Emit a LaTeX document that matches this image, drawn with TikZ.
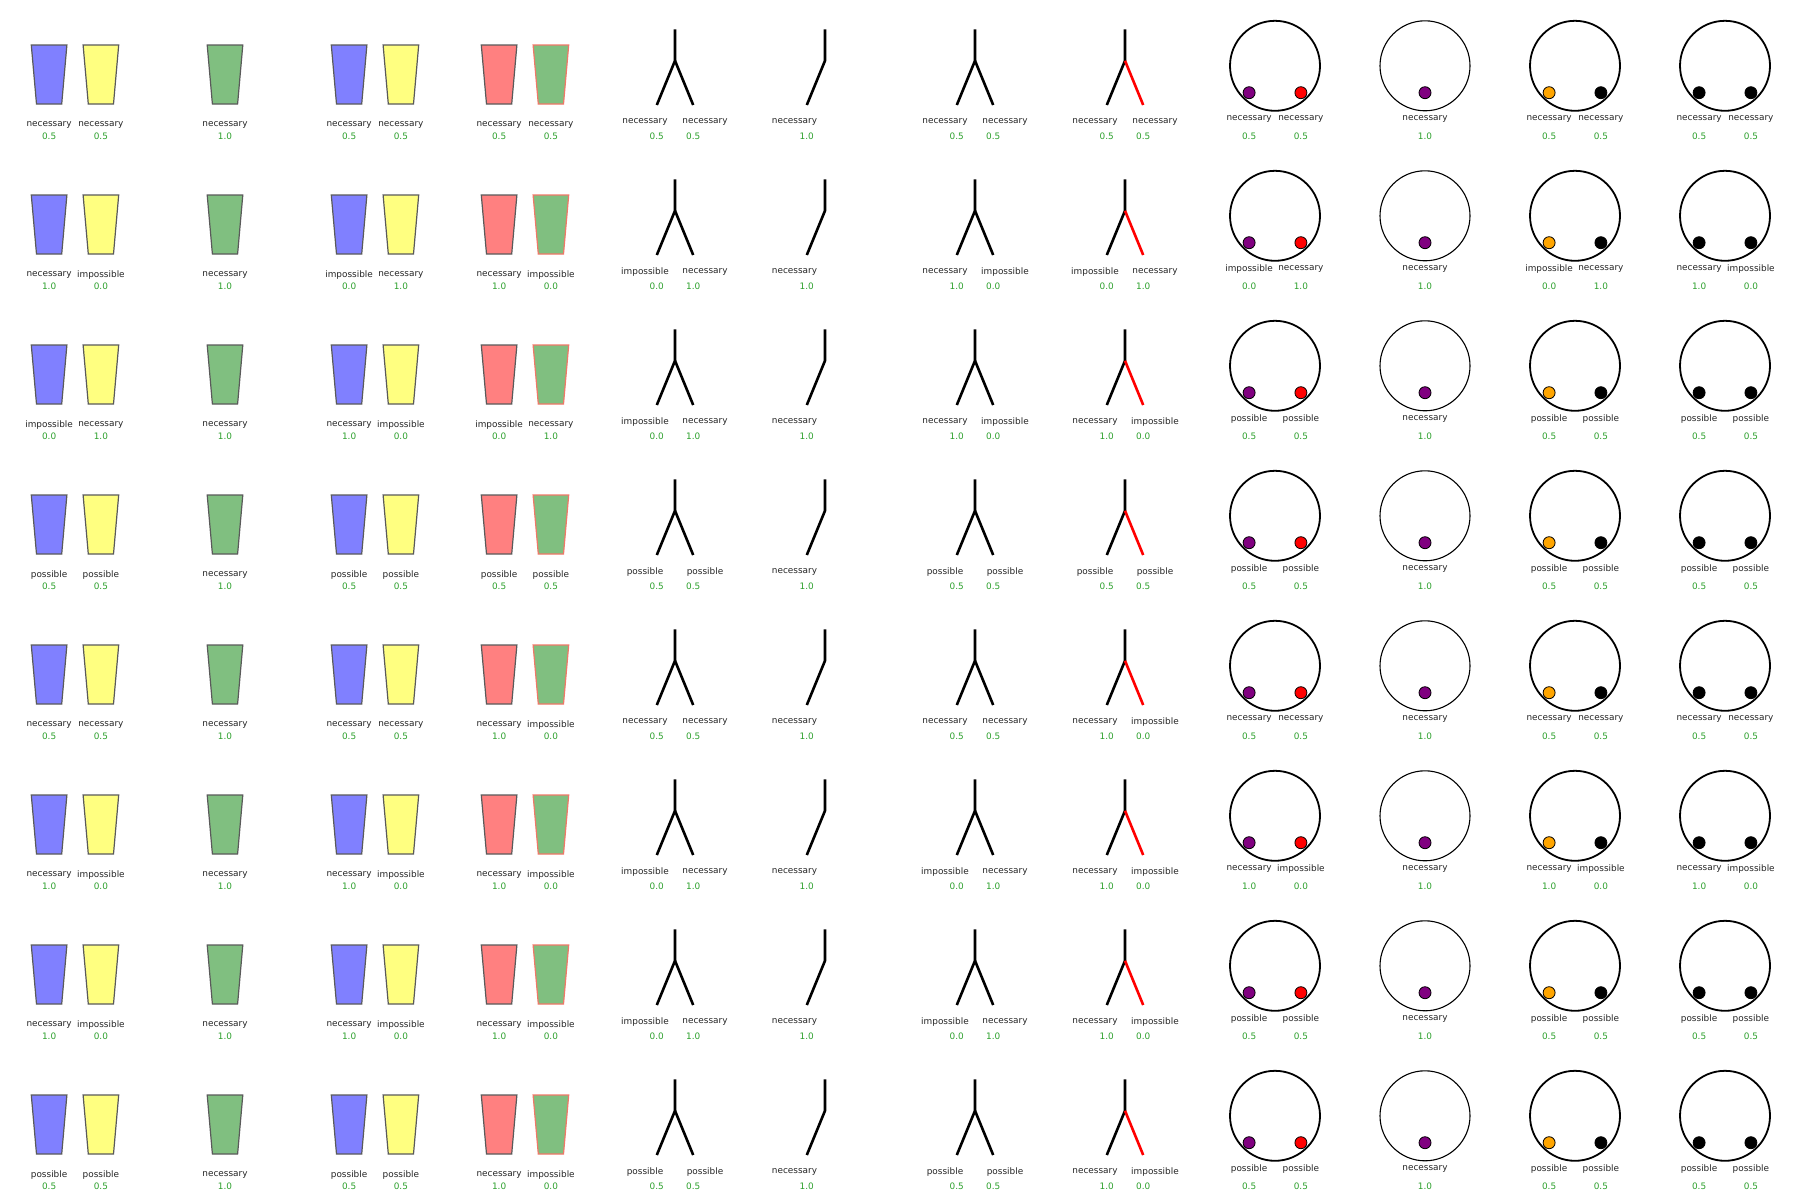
\documentclass[tikz,border=0pt]{standalone}
\usepackage{fontspec}
\setmainfont{DejaVu Sans}
\definecolor{txt}{HTML}{262626}
\definecolor{valg}{HTML}{2CA02C}
\definecolor{cupedge}{HTML}{5A5A5A}
\definecolor{blueC}{HTML}{8080FF}
\definecolor{yellowC}{HTML}{FFFF80}
\definecolor{greenC}{HTML}{80BF80}
\definecolor{redC}{HTML}{FF8080}
\definecolor{salmonE}{HTML}{F07868}
\definecolor{purpleD}{HTML}{800080}
\definecolor{orangeD}{HTML}{FFA500}

\def\codeNN{\def\la{necessary}\def\lb{necessary}\def\va{0.5}\def\vb{0.5}}
\def\codeNI{\def\la{necessary}\def\lb{impossible}\def\va{1.0}\def\vb{0.0}}
\def\codeIN{\def\la{impossible}\def\lb{necessary}\def\va{0.0}\def\vb{1.0}}
\def\codePP{\def\la{possible}\def\lb{possible}\def\va{0.5}\def\vb{0.5}}
\newcommand\setcode[1]{\csname code#1\endcsname}

% cup shape: x center, y top, fill, edge
\newcommand\cupshape[4]{%
  \filldraw[cupline, fill=#3, draw=#4] (#1-17.8,#2) -- (#1+17.8,#2) -- (#1+12.6,#2+59) -- (#1-12.6,#2+59) -- cycle;}

\newcommand\twocup[5]{%
  \pgfmathsetmacro\xa{#1-25.9}\pgfmathsetmacro\xb{#1+25.9}%
  \pgfmathsetmacro\yt{#2*150+45}\pgfmathsetmacro\yl{#2*150+125}\pgfmathsetmacro\yv{#2*150+136}%
  \cupshape{\xa}{\yt}{#3}{cupedge}
  \cupshape{\xb}{\yt}{#4}{#5}
  \node[lab] (l#1-#2a) at (\xa,\yl) {\la};
  \node[lab] (l#1-#2b) at (\xb,\yl) {\lb};
  \node[val] (v#1-#2a) at (\xa,\yv) {\va};
  \node[val] (v#1-#2b) at (\xb,\yv) {\vb};}

\newcommand\onecup[2]{%
  \pgfmathsetmacro\yt{#2*150+45}\pgfmathsetmacro\yl{#2*150+125}\pgfmathsetmacro\yv{#2*150+136}%
  \cupshape{#1}{\yt}{greenC}{cupedge}
  \node[lab] (l#1-#2a) at (#1,\yl) {necessary};
  \node[val] (v#1-#2a) at (#1,\yv) {1.0};}

\newcommand\treeshape[3]{%
  \pgfmathsetmacro\ya{#2*150+29.3}\pgfmathsetmacro\yb{#2*150+60.7}\pgfmathsetmacro\yc{#2*150+105}%
  \pgfmathsetmacro\yl{#2*150+122}\pgfmathsetmacro\yv{#2*150+136}%
  \draw[branch] (#1,\ya) -- (#1,\yb) -- (#1-18.2,\yc);
  \draw[branch,draw=#3] (#1,\yb) -- (#1+18.2,\yc);
  \node[lab] (l#1-#2a) at (#1-30,\yl) {\la};
  \node[lab] (l#1-#2b) at (#1+30,\yl) {\lb};
  \node[val] (v#1-#2a) at (#1-18.2,\yv) {\va};
  \node[val] (v#1-#2b) at (#1+18.2,\yv) {\vb};}

\newcommand\onetree[2]{%
  \pgfmathsetmacro\ya{#2*150+29.3}\pgfmathsetmacro\yb{#2*150+60.7}\pgfmathsetmacro\yc{#2*150+105}%
  \pgfmathsetmacro\yl{#2*150+122}\pgfmathsetmacro\yv{#2*150+136}%
  \draw[branch] (#1,\ya) -- (#1,\yb) -- (#1-18.2,\yc);
  \node[lab] (l#1-#2a) at (#1-30.5,\yl) {necessary};
  \node[val] (v#1-#2a) at (#1-18.2,\yv) {1.0};}

\newcommand\ringshape[4]{%
  \pgfmathsetmacro\xa{#1-25.9}\pgfmathsetmacro\xb{#1+25.9}%
  \pgfmathsetmacro\yc{#2*150+65.8}\pgfmathsetmacro\yd{#2*150+92.7}%
  \pgfmathsetmacro\yl{#2*150+119.3}\pgfmathsetmacro\yv{#2*150+136}%
  \draw[ring] (#1,\yc) circle[radius=45];
  \node[dot,fill=#3] (d#1-#2a) at (\xa,\yd) {};
  \node[dot,fill=#4] (d#1-#2b) at (\xb,\yd) {};
  \node[lab] (l#1-#2a) at (\xa,\yl) {\la};
  \node[lab] (l#1-#2b) at (\xb,\yl) {\lb};
  \node[val] (v#1-#2a) at (\xa,\yv) {\va};
  \node[val] (v#1-#2b) at (\xb,\yv) {\vb};}

\newcommand\onering[2]{%
  \pgfmathsetmacro\yc{#2*150+65.8}\pgfmathsetmacro\yd{#2*150+92.7}%
  \pgfmathsetmacro\yl{#2*150+119.3}\pgfmathsetmacro\yv{#2*150+136}%
  \draw[ring, line width=1.1pt] (#1,\yc) circle[radius=45];
  \node[dot,fill=purpleD] (d#1-#2a) at (#1,\yd) {};
  \node[lab] (l#1-#2a) at (#1,\yl) {necessary};
  \node[val] (v#1-#2a) at (#1,\yv) {1.0};}

\begin{document}
\begin{tikzpicture}[x=1pt,y=-1pt,
  lab/.style={font=\fontsize{8.9}{10}\selectfont, text=txt, inner sep=0pt, anchor=center},
  val/.style={lab, text=valg},
  cupline/.style={line width=1.2pt, line join=miter},
  branch/.style={draw=black, line width=2.6pt, line cap=butt, line join=miter},
  ring/.style={draw=black, line width=1.8pt},
  dot/.style={circle, draw=black, line width=0.8pt, minimum size=12pt, inner sep=0pt}]
\fill[white] (0,0) rectangle (1800,1200);
\useasboundingbox (0,0) rectangle (1800,1200);
\foreach \r/\ca/\cb/\cc/\cd/\ce/\cf/\cg/\ch in {
  0/NN/NN/NN/NN/NN/NN/NN/NN,
  1/NI/IN/NI/IN/NI/IN/IN/NI,
  2/IN/NI/IN/IN/NI/NI/PP/PP,
  3/PP/PP/PP/PP/PP/PP/PP/PP,
  4/NN/NN/NI/NN/NN/NI/NN/NN,
  5/NI/NI/NI/IN/IN/NI/NI/NI,
  6/NI/NI/NI/IN/IN/NI/PP/PP,
  7/PP/PP/NI/PP/PP/NI/PP/PP}{
  \setcode{\ca}\twocup{75}{\r}{blueC}{yellowC}{cupedge}
  \onecup{225}{\r}
  \setcode{\cb}\twocup{375}{\r}{blueC}{yellowC}{cupedge}
  \setcode{\cc}\twocup{525}{\r}{redC}{greenC}{salmonE}
  \setcode{\cd}\treeshape{675}{\r}{black}
  \onetree{825}{\r}
  \setcode{\ce}\treeshape{975}{\r}{black}
  \setcode{\cf}\treeshape{1125}{\r}{red}
  \setcode{\cg}\ringshape{1275}{\r}{purpleD}{red}
  \onering{1425}{\r}
  \setcode{\cg}\ringshape{1575}{\r}{orangeD}{black}
  \setcode{\ch}\ringshape{1725}{\r}{black}{black}
}
\end{tikzpicture}
\end{document}
